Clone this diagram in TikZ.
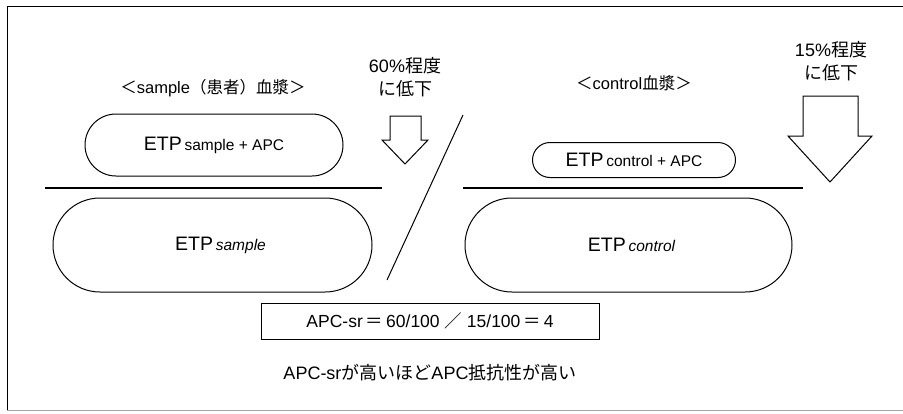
\documentclass[tikz,border=0pt]{standalone}
\usepackage{fontspec}
\setmainfont{Liberation Sans}
\newfontfamily\jp{Noto Sans CJK JP}
\newcommand\jtxt[1]{{\jp #1}}
\newcommand\etpbig{{\fontsize{19.5}{22}\selectfont ETP}}
\newcommand\subsmall[1]{{\fontsize{15.5}{18}\selectfont #1}}
\begin{document}
\begin{tikzpicture}[x=1pt,y=-1pt,
  stadium/.style={draw, line width=1pt, inner sep=0pt},
  heading/.style={inner sep=0pt, font=\fontsize{16.5}{20}\selectfont},
  droplabel/.style={inner sep=0pt, align=center, font=\fontsize{18}{23.5}\selectfont},
  rule/.style={line width=1.1pt},
  hollowarrow/.style={draw, line width=1pt, fill=white, line join=miter},
  body/.style={inner sep=0pt, font=\fontsize{18}{20}\selectfont}]
\useasboundingbox (0,0) rectangle (903,413);

% outer frame
\draw[line width=0.9pt] (903,6) -- (7,6) -- (7,410);
\draw[line width=0.6pt, black!35] (7,410) -- (903,410);

% headings
\node[heading] (shead) at (213,88) {\jtxt{＜}sample\jtxt{（患者）血漿＞}};
\node[heading] (chead) at (634,83) {\jtxt{＜}control\jtxt{血漿＞}};

% reduction labels
\node[droplabel] (sdrop) at (405,77) {60\%\jtxt{程度}\\\jtxt{に低下}};
\node[droplabel] (cdrop) at (831,61) {15\%\jtxt{程度}\\\jtxt{に低下}};

% hollow down arrows
\draw[hollowarrow] (390,116) -- (421,116) -- (421,140) -- (428,140)
  -- (405,164) -- (382,140) -- (390,140) -- cycle;
\draw[hollowarrow] (803,96) -- (858,96) -- (858,136) -- (872,136)
  -- (830,182) -- (788,136) -- (803,136) -- cycle;

% sample plasma
\node[stadium, minimum width=258pt, minimum height=62pt, rounded corners=31pt]
  (sapc) at (214,145) {\etpbig\ \subsmall{sample + APC}};
\coordinate (sruleL) at (45,188);
\coordinate (sruleR) at (382,188);
\draw[rule] (sruleL) -- (sruleR);
\node[stadium, minimum width=319pt, minimum height=94pt, rounded corners=47pt]
  (setp) at (212.5,245) {\hspace{16pt}\etpbig\ \subsmall{\itshape sample}};

% control plasma
\node[stadium, minimum width=203pt, minimum height=35pt, rounded corners=17.5pt]
  (capc) at (634,160) {\etpbig\ \subsmall{control + APC}};
\coordinate (cruleL) at (463,188);
\coordinate (cruleR) at (803,188);
\draw[rule] (cruleL) -- (cruleR);
\node[stadium, minimum width=327pt, minimum height=94pt, rounded corners=47pt]
  (cetp) at (628.5,245) {\hspace{6pt}\etpbig\ \subsmall{\itshape control}};

% dividing slash
\coordinate (slashtop) at (463,115);
\coordinate (slashbot) at (387,280);
\draw[line width=1pt] (slashtop) -- (slashbot);

% ratio box and note
\node[draw, line width=0.9pt, minimum width=338pt, minimum height=36pt, inner sep=0pt, font=\fontsize{17.5}{20}\selectfont]
  (ratio) at (430,321) {APC-sr\,\jtxt{＝}\,60/100\ \jtxt{／}\ 15/100\,\jtxt{＝}\,4};
\node[body] (note) at (430,373) {APC-sr\jtxt{が高いほど}APC\jtxt{抵抗性が高い}};
\end{tikzpicture}
\end{document}
